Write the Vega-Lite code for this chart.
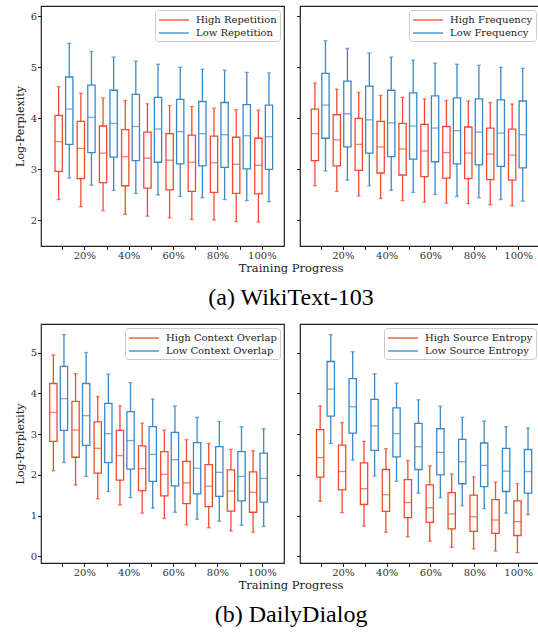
{
  "$schema": "https://vega.github.io/schema/vega-lite/v6.json",
  "padding": {"left": 13, "top": 5, "right": 0, "bottom": 0},
  "background": "white",
  "datasets": {
    "rep": [
      {"step": 10, "series": "High Repetition", "min": 2.41, "q1": 2.96, "med": 3.545, "q3": 4.06, "max": 4.62},
      {"step": 20, "series": "High Repetition", "min": 2.27, "q1": 2.82, "med": 3.41, "q3": 3.94, "max": 4.49},
      {"step": 30, "series": "High Repetition", "min": 2.19, "q1": 2.74, "med": 3.32, "q3": 3.85, "max": 4.40},
      {"step": 40, "series": "High Repetition", "min": 2.12, "q1": 2.68, "med": 3.25, "q3": 3.78, "max": 4.35},
      {"step": 50, "series": "High Repetition", "min": 2.085, "q1": 2.635, "med": 3.22, "q3": 3.73, "max": 4.285},
      {"step": 60, "series": "High Repetition", "min": 2.05, "q1": 2.60, "med": 3.18, "q3": 3.70, "max": 4.25},
      {"step": 70, "series": "High Repetition", "min": 2.02, "q1": 2.57, "med": 3.14, "q3": 3.67, "max": 4.23},
      {"step": 80, "series": "High Repetition", "min": 2.01, "q1": 2.55, "med": 3.13, "q3": 3.65, "max": 4.20},
      {"step": 90, "series": "High Repetition", "min": 1.98, "q1": 2.53, "med": 3.10, "q3": 3.63, "max": 4.17},
      {"step": 100, "series": "High Repetition", "min": 1.97, "q1": 2.52, "med": 3.08, "q3": 3.61, "max": 4.16},
      {"step": 10, "series": "Low Repetition", "min": 2.83, "q1": 3.49, "med": 4.18, "q3": 4.81, "max": 5.47},
      {"step": 20, "series": "Low Repetition", "min": 2.69, "q1": 3.33, "med": 4.02, "q3": 4.65, "max": 5.31},
      {"step": 30, "series": "Low Repetition", "min": 2.59, "q1": 3.24, "med": 3.90, "q3": 4.55, "max": 5.20},
      {"step": 40, "series": "Low Repetition", "min": 2.53, "q1": 3.17, "med": 3.84, "q3": 4.47, "max": 5.12},
      {"step": 50, "series": "Low Repetition", "min": 2.50, "q1": 3.14, "med": 3.79, "q3": 4.41, "max": 5.06},
      {"step": 60, "series": "Low Repetition", "min": 2.47, "q1": 3.11, "med": 3.74, "q3": 4.37, "max": 5.00},
      {"step": 70, "series": "Low Repetition", "min": 2.445, "q1": 3.07, "med": 3.70, "q3": 4.33, "max": 4.96},
      {"step": 80, "series": "Low Repetition", "min": 2.41, "q1": 3.04, "med": 3.68, "q3": 4.31, "max": 4.94},
      {"step": 90, "series": "Low Repetition", "min": 2.39, "q1": 3.01, "med": 3.66, "q3": 4.27, "max": 4.90},
      {"step": 100, "series": "Low Repetition", "min": 2.37, "q1": 3.00, "med": 3.64, "q3": 4.26, "max": 4.89}
    ],
    "freq": [
      {"step": 10, "series": "High Frequency", "min": 2.68, "q1": 3.17, "med": 3.70, "q3": 4.18, "max": 4.69},
      {"step": 20, "series": "High Frequency", "min": 2.57, "q1": 3.07, "med": 3.58, "q3": 4.07, "max": 4.57},
      {"step": 30, "series": "High Frequency", "min": 2.48, "q1": 2.98, "med": 3.49, "q3": 4.00, "max": 4.51},
      {"step": 40, "series": "High Frequency", "min": 2.43, "q1": 2.93, "med": 3.44, "q3": 3.94, "max": 4.45},
      {"step": 50, "series": "High Frequency", "min": 2.39, "q1": 2.89, "med": 3.40, "q3": 3.90, "max": 4.41},
      {"step": 60, "series": "High Frequency", "min": 2.36, "q1": 2.86, "med": 3.36, "q3": 3.88, "max": 4.38},
      {"step": 70, "series": "High Frequency", "min": 2.34, "q1": 2.83, "med": 3.33, "q3": 3.84, "max": 4.35},
      {"step": 80, "series": "High Frequency", "min": 2.33, "q1": 2.82, "med": 3.32, "q3": 3.83, "max": 4.34},
      {"step": 90, "series": "High Frequency", "min": 2.31, "q1": 2.80, "med": 3.30, "q3": 3.81, "max": 4.31},
      {"step": 100, "series": "High Frequency", "min": 2.29, "q1": 2.79, "med": 3.28, "q3": 3.79, "max": 4.28},
      {"step": 10, "series": "Low Frequency", "min": 2.97, "q1": 3.61, "med": 4.26, "q3": 4.88, "max": 5.52},
      {"step": 20, "series": "Low Frequency", "min": 2.79, "q1": 3.44, "med": 4.09, "q3": 4.73, "max": 5.37},
      {"step": 30, "series": "Low Frequency", "min": 2.68, "q1": 3.32, "med": 3.97, "q3": 4.63, "max": 5.28},
      {"step": 40, "series": "Low Frequency", "min": 2.59, "q1": 3.25, "med": 3.91, "q3": 4.55, "max": 5.20},
      {"step": 50, "series": "Low Frequency", "min": 2.55, "q1": 3.20, "med": 3.85, "q3": 4.50, "max": 5.14},
      {"step": 60, "series": "Low Frequency", "min": 2.51, "q1": 3.15, "med": 3.81, "q3": 4.44, "max": 5.08},
      {"step": 70, "series": "Low Frequency", "min": 2.47, "q1": 3.11, "med": 3.76, "q3": 4.40, "max": 5.06},
      {"step": 80, "series": "Low Frequency", "min": 2.445, "q1": 3.09, "med": 3.73, "q3": 4.38, "max": 5.04},
      {"step": 90, "series": "Low Frequency", "min": 2.41, "q1": 3.06, "med": 3.71, "q3": 4.36, "max": 5.00},
      {"step": 100, "series": "Low Frequency", "min": 2.38, "q1": 3.03, "med": 3.68, "q3": 4.34, "max": 4.98}
    ],
    "ctx": [
      {"step": 10, "series": "High Context Overlap", "min": 2.10, "q1": 2.82, "med": 3.53, "q3": 4.24, "max": 4.94},
      {"step": 20, "series": "High Context Overlap", "min": 1.75, "q1": 2.43, "med": 3.10, "q3": 3.80, "max": 4.48},
      {"step": 30, "series": "High Context Overlap", "min": 1.41, "q1": 2.04, "med": 2.65, "q3": 3.30, "max": 3.92},
      {"step": 40, "series": "High Context Overlap", "min": 1.26, "q1": 1.87, "med": 2.47, "q3": 3.09, "max": 3.69},
      {"step": 50, "series": "High Context Overlap", "min": 1.06, "q1": 1.61, "med": 2.15, "q3": 2.71, "max": 3.27},
      {"step": 60, "series": "High Context Overlap", "min": 0.93, "q1": 1.48, "med": 2.01, "q3": 2.57, "max": 3.10},
      {"step": 70, "series": "High Context Overlap", "min": 0.77, "q1": 1.29, "med": 1.80, "q3": 2.33, "max": 2.86},
      {"step": 80, "series": "High Context Overlap", "min": 0.70, "q1": 1.22, "med": 1.72, "q3": 2.25, "max": 2.77},
      {"step": 90, "series": "High Context Overlap", "min": 0.62, "q1": 1.11, "med": 1.60, "q3": 2.12, "max": 2.62},
      {"step": 100, "series": "High Context Overlap", "min": 0.59, "q1": 1.08, "med": 1.57, "q3": 2.07, "max": 2.59},
      {"step": 10, "series": "Low Context Overlap", "min": 2.30, "q1": 3.09, "med": 3.87, "q3": 4.66, "max": 5.44},
      {"step": 20, "series": "Low Context Overlap", "min": 1.96, "q1": 2.72, "med": 3.45, "q3": 4.24, "max": 5.00},
      {"step": 30, "series": "Low Context Overlap", "min": 1.59, "q1": 2.30, "med": 3.01, "q3": 3.75, "max": 4.47},
      {"step": 40, "series": "Low Context Overlap", "min": 1.44, "q1": 2.14, "med": 2.84, "q3": 3.55, "max": 4.26},
      {"step": 50, "series": "Low Context Overlap", "min": 1.18, "q1": 1.84, "med": 2.50, "q3": 3.18, "max": 3.86},
      {"step": 60, "series": "Low Context Overlap", "min": 1.08, "q1": 1.73, "med": 2.37, "q3": 3.04, "max": 3.69},
      {"step": 70, "series": "Low Context Overlap", "min": 0.91, "q1": 1.53, "med": 2.16, "q3": 2.79, "max": 3.41},
      {"step": 80, "series": "Low Context Overlap", "min": 0.86, "q1": 1.47, "med": 2.06, "q3": 2.69, "max": 3.31},
      {"step": 90, "series": "Low Context Overlap", "min": 0.76, "q1": 1.36, "med": 1.96, "q3": 2.57, "max": 3.18},
      {"step": 100, "series": "Low Context Overlap", "min": 0.73, "q1": 1.33, "med": 1.91, "q3": 2.53, "max": 3.13}
    ],
    "ent": [
      {"step": 10, "series": "High Source Entropy", "min": 1.35, "q1": 1.94, "med": 2.42, "q3": 3.11, "max": 3.69},
      {"step": 20, "series": "High Source Entropy", "min": 1.07, "q1": 1.63, "med": 2.08, "q3": 2.73, "max": 3.28},
      {"step": 30, "series": "High Source Entropy", "min": 0.74, "q1": 1.27, "med": 1.66, "q3": 2.29, "max": 2.82},
      {"step": 40, "series": "High Source Entropy", "min": 0.59, "q1": 1.10, "med": 1.51, "q3": 2.13, "max": 2.64},
      {"step": 50, "series": "High Source Entropy", "min": 0.48, "q1": 0.95, "med": 1.32, "q3": 1.88, "max": 2.35},
      {"step": 60, "series": "High Source Entropy", "min": 0.37, "q1": 0.83, "med": 1.19, "q3": 1.75, "max": 2.22},
      {"step": 70, "series": "High Source Entropy", "min": 0.22, "q1": 0.67, "med": 1.04, "q3": 1.56, "max": 2.02},
      {"step": 80, "series": "High Source Entropy", "min": 0.18, "q1": 0.61, "med": 0.97, "q3": 1.50, "max": 1.95},
      {"step": 90, "series": "High Source Entropy", "min": 0.13, "q1": 0.56, "med": 0.89, "q3": 1.39, "max": 1.82},
      {"step": 100, "series": "High Source Entropy", "min": 0.09, "q1": 0.51, "med": 0.85, "q3": 1.36, "max": 1.78},
      {"step": 10, "series": "Low Source Entropy", "min": 2.77, "q1": 3.44, "med": 4.10, "q3": 4.78, "max": 5.44},
      {"step": 20, "series": "Low Source Entropy", "min": 2.36, "q1": 3.02, "med": 3.67, "q3": 4.36, "max": 5.02},
      {"step": 30, "series": "Low Source Entropy", "min": 1.97, "q1": 2.60, "med": 3.20, "q3": 3.85, "max": 4.48},
      {"step": 40, "series": "Low Source Entropy", "min": 1.84, "q1": 2.44, "med": 3.01, "q3": 3.64, "max": 4.25},
      {"step": 50, "series": "Low Source Entropy", "min": 1.55, "q1": 2.13, "med": 2.69, "q3": 3.26, "max": 3.84},
      {"step": 60, "series": "Low Source Entropy", "min": 1.44, "q1": 2.00, "med": 2.55, "q3": 3.13, "max": 3.68},
      {"step": 70, "series": "Low Source Entropy", "min": 1.24, "q1": 1.78, "med": 2.32, "q3": 2.87, "max": 3.41},
      {"step": 80, "series": "Low Source Entropy", "min": 1.17, "q1": 1.71, "med": 2.23, "q3": 2.78, "max": 3.32},
      {"step": 90, "series": "Low Source Entropy", "min": 1.06, "q1": 1.59, "med": 2.09, "q3": 2.65, "max": 3.18},
      {"step": 100, "series": "Low Source Entropy", "min": 1.02, "q1": 1.55, "med": 2.08, "q3": 2.62, "max": 3.15}
    ]
  },
  "vconcat": [
    {
      "title": {"text": "Training Progress", "orient": "bottom", "anchor": "middle", "subtitle": "(a) WikiText-103", "offset": 2, "subtitlePadding": 11, "dx": 14},
      "spacing": 10,
      "hconcat": [
        {
          "width": 243, "height": 240,
          "data": {"name": "rep"},
          "encoding": {
            "x": {"field": "step", "type": "ordinal", "scale": {"paddingInner": 0, "paddingOuter": 0.475}, "axis": {"title": null, "labelExpr": "datum.value % 20 == 0 ? datum.value + '%' : ''"}},
            "xOffset": {"field": "series", "type": "nominal", "scale": {"paddingInner": 0, "paddingOuter": 0.193}},
            "color": {"field": "series", "type": "nominal", "scale": {"range": ["#ef4a30", "#3a87c6"]}, "legend": {"title": null}}
          },
          "layer": [
            {"mark": "rule", "encoding": {"y": {"field": "min", "type": "quantitative", "scale": {"domain": [1.5, 6.2], "nice": false, "zero": false}, "axis": {"values": [2, 3, 4, 5, 6], "title": "Log-Perplexity"}}, "y2": {"field": "q1"}}},
            {"mark": "rule", "encoding": {"y": {"field": "q3", "type": "quantitative", "title": "Log-Perplexity"}, "y2": {"field": "max"}}},
            {"mark": {"type": "bar", "filled": false, "width": 7.3}, "encoding": {"y": {"field": "q1", "type": "quantitative", "title": "Log-Perplexity"}, "y2": {"field": "q3"}}},
            {"mark": {"type": "tick", "size": 7.3}, "encoding": {"y": {"field": "med", "type": "quantitative", "title": "Log-Perplexity"}}},
            {"mark": {"type": "tick", "size": 4}, "encoding": {"y": {"field": "min", "type": "quantitative", "title": "Log-Perplexity"}}},
            {"mark": {"type": "tick", "size": 4}, "encoding": {"y": {"field": "max", "type": "quantitative", "title": "Log-Perplexity"}}}
          ]
        },
        {
          "width": 240, "height": 240,
          "data": {"name": "freq"},
          "encoding": {
            "x": {"field": "step", "type": "ordinal", "scale": {"paddingInner": 0, "paddingOuter": 0.475}, "axis": {"title": null, "labelExpr": "datum.value % 20 == 0 ? datum.value + '%' : ''"}},
            "xOffset": {"field": "series", "type": "nominal", "scale": {"paddingInner": 0, "paddingOuter": 0.193}},
            "color": {"field": "series", "type": "nominal", "scale": {"range": ["#ef4a30", "#3a87c6"]}, "legend": {"title": null}}
          },
          "layer": [
            {"mark": "rule", "encoding": {"y": {"field": "min", "type": "quantitative", "scale": {"domain": [1.5, 6.2], "nice": false, "zero": false}, "axis": {"values": [2, 3, 4, 5, 6], "labels": false}, "title": null}, "y2": {"field": "q1"}}},
            {"mark": "rule", "encoding": {"y": {"field": "q3", "type": "quantitative", "title": null}, "y2": {"field": "max"}}},
            {"mark": {"type": "bar", "filled": false, "width": 7.3}, "encoding": {"y": {"field": "q1", "type": "quantitative", "title": null}, "y2": {"field": "q3"}}},
            {"mark": {"type": "tick", "size": 7.3}, "encoding": {"y": {"field": "med", "type": "quantitative", "title": null}}},
            {"mark": {"type": "tick", "size": 4}, "encoding": {"y": {"field": "min", "type": "quantitative", "title": null}}},
            {"mark": {"type": "tick", "size": 4}, "encoding": {"y": {"field": "max", "type": "quantitative", "title": null}}}
          ]
        }
      ],
      "resolve": {"scale": {"color": "independent"}, "legend": {"color": "independent"}}
    },
    {
      "title": {"text": "Training Progress", "orient": "bottom", "anchor": "middle", "subtitle": "(b) DailyDialog", "offset": 2, "subtitlePadding": 11, "dx": 14},
      "spacing": 10,
      "hconcat": [
        {
          "width": 243, "height": 239,
          "data": {"name": "ctx"},
          "encoding": {
            "x": {"field": "step", "type": "ordinal", "scale": {"paddingInner": 0, "paddingOuter": 0.475}, "axis": {"title": null, "labelExpr": "datum.value % 20 == 0 ? datum.value + '%' : ''"}},
            "xOffset": {"field": "series", "type": "nominal", "scale": {"paddingInner": 0, "paddingOuter": 0.193}},
            "color": {"field": "series", "type": "nominal", "scale": {"range": ["#ef4a30", "#3a87c6"]}, "legend": {"title": null}}
          },
          "layer": [
            {"mark": "rule", "encoding": {"y": {"field": "min", "type": "quantitative", "scale": {"domain": [-0.165, 5.7], "nice": false, "zero": false}, "axis": {"values": [0, 1, 2, 3, 4, 5], "title": "Log-Perplexity"}}, "y2": {"field": "q1"}}},
            {"mark": "rule", "encoding": {"y": {"field": "q3", "type": "quantitative", "title": "Log-Perplexity"}, "y2": {"field": "max"}}},
            {"mark": {"type": "bar", "filled": false, "width": 7.3}, "encoding": {"y": {"field": "q1", "type": "quantitative", "title": "Log-Perplexity"}, "y2": {"field": "q3"}}},
            {"mark": {"type": "tick", "size": 7.3}, "encoding": {"y": {"field": "med", "type": "quantitative", "title": "Log-Perplexity"}}},
            {"mark": {"type": "tick", "size": 4}, "encoding": {"y": {"field": "min", "type": "quantitative", "title": "Log-Perplexity"}}},
            {"mark": {"type": "tick", "size": 4}, "encoding": {"y": {"field": "max", "type": "quantitative", "title": "Log-Perplexity"}}}
          ]
        },
        {
          "width": 240, "height": 239,
          "data": {"name": "ent"},
          "encoding": {
            "x": {"field": "step", "type": "ordinal", "scale": {"paddingInner": 0, "paddingOuter": 0.475}, "axis": {"title": null, "labelExpr": "datum.value % 20 == 0 ? datum.value + '%' : ''"}},
            "xOffset": {"field": "series", "type": "nominal", "scale": {"paddingInner": 0, "paddingOuter": 0.193}},
            "color": {"field": "series", "type": "nominal", "scale": {"range": ["#ef4a30", "#3a87c6"]}, "legend": {"title": null}}
          },
          "layer": [
            {"mark": "rule", "encoding": {"y": {"field": "min", "type": "quantitative", "scale": {"domain": [-0.165, 5.7], "nice": false, "zero": false}, "axis": {"values": [0, 1, 2, 3, 4, 5], "labels": false}, "title": null}, "y2": {"field": "q1"}}},
            {"mark": "rule", "encoding": {"y": {"field": "q3", "type": "quantitative", "title": null}, "y2": {"field": "max"}}},
            {"mark": {"type": "bar", "filled": false, "width": 7.3}, "encoding": {"y": {"field": "q1", "type": "quantitative", "title": null}, "y2": {"field": "q3"}}},
            {"mark": {"type": "tick", "size": 7.3}, "encoding": {"y": {"field": "med", "type": "quantitative", "title": null}}},
            {"mark": {"type": "tick", "size": 4}, "encoding": {"y": {"field": "min", "type": "quantitative", "title": null}}},
            {"mark": {"type": "tick", "size": 4}, "encoding": {"y": {"field": "max", "type": "quantitative", "title": null}}}
          ]
        }
      ],
      "resolve": {"scale": {"color": "independent"}, "legend": {"color": "independent"}}
    }
  ],
  "spacing": 13,
  "resolve": {"scale": {"color": "independent"}, "legend": {"color": "independent"}},
  "config": {
    "font": "DejaVu Serif",
    "view": {"stroke": "#222222", "strokeWidth": 1.2},
    "axis": {"domain": false, "grid": false, "tickColor": "#222222", "tickSize": 3.5, "tickWidth": 1, "labelFont": "DejaVu Serif", "labelFontSize": 10, "labelColor": "#333333", "labelAngle": 0, "labelPadding": 1, "titleFont": "DejaVu Serif", "titleFontSize": 11, "titleFontWeight": "normal", "titleColor": "#222222", "titlePadding": 5},
    "legend": {"orient": "top-right", "offset": 4, "symbolType": "M-1,0H4", "symbolSize": 144, "symbolStrokeWidth": 1.5, "labelFont": "DejaVu Serif", "labelFontSize": 10, "labelColor": "#222222", "padding": 3, "fillColor": "rgba(255,255,255,0.8)", "strokeColor": "#cccccc", "cornerRadius": 3, "rowPadding": 1, "labelOffset": 24},
    "title": {"font": "DejaVu Serif", "fontSize": 11.5, "fontWeight": "normal", "color": "#222222", "subtitleFont": "Liberation Serif", "subtitleFontSize": 24, "subtitleColor": "#000000"},
    "rule": {"strokeWidth": 1.3},
    "bar": {"strokeWidth": 1.3},
    "tick": {"thickness": 1.3}
  }
}
